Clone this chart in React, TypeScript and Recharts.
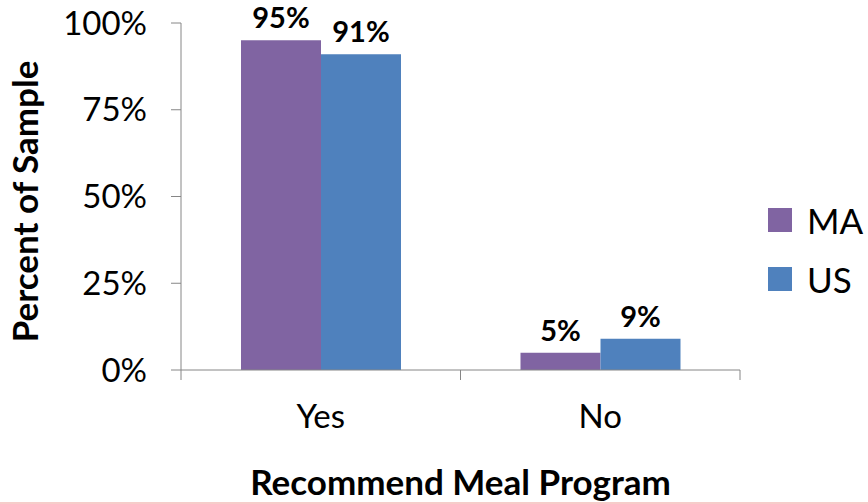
import { BarChart, Bar, XAxis, YAxis, Legend, LabelList } from "recharts";

const categories = ["Yes", "No"];
const maValues = [95, 5];
const usValues = [91, 9];
const yTicks = [0, 25, 50, 75, 100];

const data = categories.map((category, i) => ({
  category,
  MA: maValues[i],
  US: usValues[i],
}));

const series = [
  { key: "MA", color: "#8064A2" },
  { key: "US", color: "#4F81BD" },
];

const W = 868;
const H = 504;
const margin = { top: 23, right: 128, bottom: 0, left: 0 };
const yAxisWidth = 181;
const xAxisHeight = 134;
const plotWidth = W - margin.left - margin.right - yAxisWidth;
const halfBand = plotWidth / categories.length / 2;
const axisColor = "#868686";
const font = "Lato, 'Open Sans', sans-serif";

const CategoryTick = (props: any) => {
  const { x, y, payload } = props;
  return (
    <g>
      <line x1={x - halfBand} y1={y} x2={x - halfBand} y2={y + 10} stroke={axisColor} />
      <line x1={x + halfBand} y1={y} x2={x + halfBand} y2={y + 10} stroke={axisColor} />
      <text x={x} y={y + 58} textAnchor="middle" fontSize={33} fill="#000" fontFamily={font}>
        {payload.value}
      </text>
      {payload.index === 0 && (
        <text
          x={x + halfBand}
          y={y + 125}
          textAnchor="middle"
          fontSize={35}
          fontWeight="bold"
          fill="#000"
          fontFamily={font}
        >
          Recommend Meal Program
        </text>
      )}
    </g>
  );
};

const YTitle = (props: any) => {
  const { viewBox } = props;
  const cy = viewBox.y + viewBox.height / 2 + 5;
  return (
    <text
      x={38}
      y={cy}
      transform={`rotate(-90, 38, ${cy})`}
      textAnchor="middle"
      fontSize={35}
      fontWeight="bold"
      fill="#000"
      fontFamily={font}
    >
      Percent of Sample
    </text>
  );
};

const LegendBox = () => (
  <div style={{ fontFamily: font }}>
    {series.map((s, i) => (
      <div
        key={s.key}
        style={{ display: "flex", alignItems: "center", height: 40, marginBottom: i === 0 ? 19 : 0 }}
      >
        <div style={{ width: 24, height: 24, background: s.color, marginRight: 15 }} />
        <span style={{ fontSize: 35, lineHeight: "40px", color: "#000" }}>{s.key}</span>
      </div>
    ))}
  </div>
);

export default function App() {
  return (
    <div style={{ position: "absolute", left: 0, top: 0, width: W, height: H, background: "#fff" }}>
      <BarChart width={W} height={H} data={data} margin={margin} barGap={0} barSize={80}>
        <XAxis
          dataKey="category"
          height={xAxisHeight}
          axisLine={{ stroke: axisColor }}
          tickLine={false}
          tickSize={0}
          tickMargin={0}
          tick={<CategoryTick />}
          interval={0}
        />
        <YAxis
          width={yAxisWidth}
          domain={[0, 100]}
          ticks={yTicks}
          interval={0}
          tickFormatter={(v: number) => `${v}%`}
          axisLine={{ stroke: axisColor }}
          tickLine={{ stroke: axisColor }}
          tickSize={10}
          tickMargin={24}
          tick={{ fontSize: 33, fill: "#000", fontFamily: font }}
          label={<YTitle />}
        />
        <Legend
          layout="vertical"
          align="center"
          verticalAlign="middle"
          content={<LegendBox />}
          wrapperStyle={{ left: 768, top: 200, width: 100 }}
        />
        {series.map((s) => (
          <Bar key={s.key} dataKey={s.key} fill={s.color} isAnimationActive={false}>
            <LabelList
              dataKey={s.key}
              position="top"
              offset={12}
              formatter={(v: any) => `${v}%`}
              style={{ fontSize: 29, fontWeight: "bold", fill: "#000", fontFamily: font }}
            />
          </Bar>
        ))}
      </BarChart>
      <div style={{ position: "absolute", left: 0, bottom: 0, width: W, height: 2, background: "#f6cdca" }} />
    </div>
  );
}
